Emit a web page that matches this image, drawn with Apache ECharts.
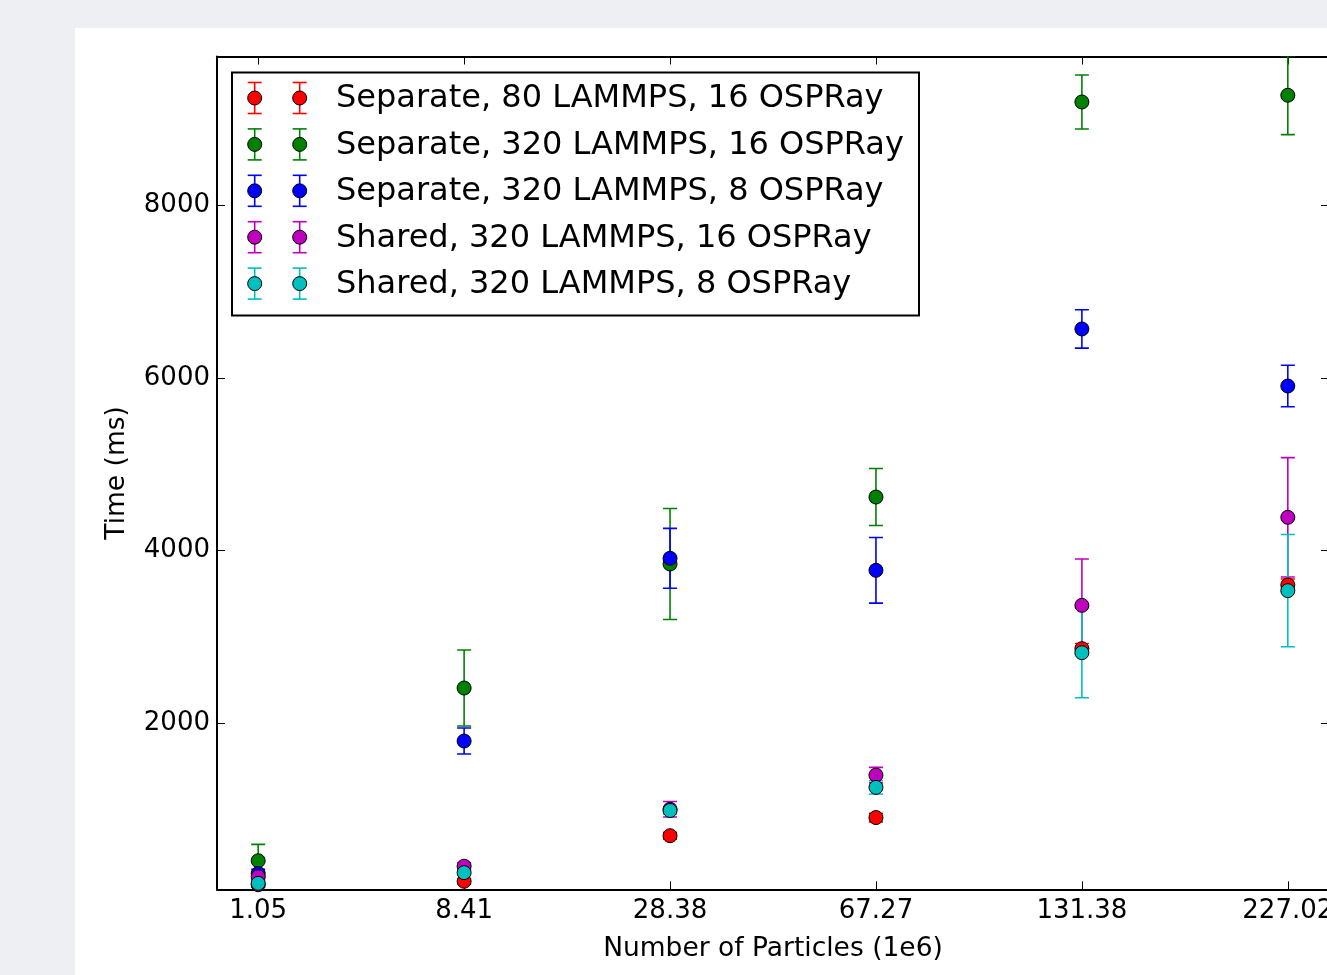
<!DOCTYPE html>
<html>
<head>
<meta charset="utf-8">
<title>Time vs particles</title>
<script src="https://cdn.jsdelivr.net/npm/echarts@6/dist/echarts.min.js"></script>
<style>
html,body{margin:0;padding:0;background:#eeeff2;overflow:hidden;}
#panel{position:absolute;left:75px;top:28px;right:0;bottom:0;background:#fff;}
#main{position:absolute;left:0;top:0;width:1327px;height:975px;}
</style>
</head>
<body>
<div id="panel"></div>
<div id="main"></div>
<script>
// x categories (millions of particles)
var categories = ['1.05', '8.41', '28.38', '67.27', '131.38', '227.02'];
var yTicks = [2000, 4000, 6000, 8000];

var seriesNames = [
	'Separate, 80 LAMMPS, 16 OSPRay',
	'Separate, 320 LAMMPS, 16 OSPRay',
	'Separate, 320 LAMMPS, 8 OSPRay',
	'Shared, 320 LAMMPS, 16 OSPRay',
	'Shared, 320 LAMMPS, 8 OSPRay'
];
var colors = ['#ff0000', '#008000', '#0000ff', '#bf00bf', '#00bfbf'];

// mean times (ms) and error (ms)
var sep80 = [130, 170, 698, 908, 2865, 3603];
var sep80Err = [30, 30, 40, 50, 60, 70];
var sep320o16 = [408, 2409, 3846, 4622, 9199, 9277];
var sep320o16Err = [190, 440, 643, 330, 313, 456];
var sep320o8 = [260, 1795, 3912, 3773, 6569, 5908];
var sep320o8Err = [50, 150, 347, 380, 222, 240];
var shared16 = [223, 345, 1005, 1400, 3367, 4387];
var shared16Err = [40, 40, 90, 90, 537, 691];
var shared8 = [146, 270, 990, 1258, 2818, 3537];
var shared8Err = [30, 30, 40, 77, 521, 650];

var allValues = [sep80, sep320o16, sep320o8, shared16, shared8];
var allErrors = [sep80Err, sep320o16Err, sep320o8Err, shared16Err, shared8Err];

var FONT = 'DejaVu Sans';

function errorBar(params, api) {
	var x = api.value(0);
	var y = api.value(1);
	var e = api.value(2);
	var top = api.coord([x, y + e]);
	var bot = api.coord([x, y - e]);
	var hw = 7;
	var st = {stroke: api.visual('color'), lineWidth: 1.6};
	return {
		type: 'group',
		children: [
			{type: 'line', shape: {x1: top[0], y1: top[1], x2: bot[0], y2: bot[1]}, style: st},
			{type: 'line', shape: {x1: top[0] - hw, y1: top[1], x2: top[0] + hw, y2: top[1]}, style: st},
			{type: 'line', shape: {x1: bot[0] - hw, y1: bot[1], x2: bot[0] + hw, y2: bot[1]}, style: st}
		]
	};
}

function buildSeries() {
	var list = [];
	for (var s = 0; s < allValues.length; s++) {
		var pts = [];
		var bars = [];
		for (var i = 0; i < categories.length; i++) {
			pts.push([i, allValues[s][i]]);
			bars.push([i, allValues[s][i], allErrors[s][i]]);
		}
		list.push({
			type: 'custom',
			name: seriesNames[s],
			renderItem: errorBar,
			clip: true,
			itemStyle: {color: colors[s]},
			data: bars
		});
		list.push({
			type: 'scatter',
			name: seriesNames[s],
			symbol: 'circle',
			symbolSize: 14,
			itemStyle: {color: colors[s], borderColor: '#000', borderWidth: 1, opacity: 1},
			data: pts
		});
	}
	return list;
}

// legend drawn by hand: two marker+errorbar samples per row, like matplotlib
function buildLegend() {
	var kids = [{
		type: 'rect',
		shape: {x: 0, y: 0, width: 687, height: 243},
		style: {fill: '#fff', stroke: '#000', lineWidth: 2}
	}];
	for (var i = 0; i < seriesNames.length; i++) {
		var cy = 25.5 + i * 46.4;
		var mx = [22.7, 67.7];
		for (var k = 0; k < mx.length; k++) {
			var st = {stroke: colors[i], lineWidth: 1.6};
			kids.push({type: 'line', shape: {x1: mx[k], y1: cy - 15.5, x2: mx[k], y2: cy + 15.5}, style: st});
			kids.push({type: 'line', shape: {x1: mx[k] - 7, y1: cy - 15.5, x2: mx[k] + 7, y2: cy - 15.5}, style: st});
			kids.push({type: 'line', shape: {x1: mx[k] - 7, y1: cy + 15.5, x2: mx[k] + 7, y2: cy + 15.5}, style: st});
			kids.push({type: 'circle', shape: {cx: mx[k], cy: cy, r: 7}, style: {fill: colors[i], stroke: '#000', lineWidth: 1}});
		}
		kids.push({
			type: 'text',
			x: 104, y: cy + 1,
			style: {text: seriesNames[i], fill: '#000', font: '32px "' + FONT + '"', verticalAlign: 'middle', align: 'left'}
		});
	}
	return [{type: 'group', x: 232, y: 72.5, z: 100, children: kids}];
}

var myChart = echarts.init(document.getElementById('main'));

var tickIdx = [];
for (var t = 0; t < categories.length; t++) tickIdx.push(t);

var option = {
	animation: false,
	textStyle: {fontFamily: FONT},
	grid: {left: 217, top: 56.5, width: 1112, height: 832.8, containLabel: false, outerBoundsMode: 'none'},
	xAxis: [{
		type: 'value',
		min: -0.2,
		max: 5.2,
		position: 'bottom',
		name: 'Number of Particles (1e6)',
		nameLocation: 'middle',
		nameGap: 46,
		nameTextStyle: {fontSize: 26.5, color: '#000', fontFamily: FONT},
		axisLine: {show: true, onZero: false, lineStyle: {color: '#000', width: 2}},
		axisTick: {show: true, inside: true, length: 8, customValues: tickIdx, lineStyle: {color: '#000', width: 1}},
		axisLabel: {
			show: true, customValues: tickIdx, margin: 9, fontSize: 26, color: '#000', fontFamily: FONT,
			formatter: function (v) { return categories[Math.round(v)]; }
		},
		splitLine: {show: false}
	}, {
		type: 'value',
		min: -0.2,
		max: 5.2,
		position: 'top',
		axisLine: {show: true, onZero: false, lineStyle: {color: '#000', width: 2}},
		axisTick: {show: true, inside: true, length: 8, customValues: tickIdx, lineStyle: {color: '#000', width: 1}},
		axisLabel: {show: false},
		splitLine: {show: false}
	}],
	yAxis: [{
		type: 'value',
		min: 77,
		max: 9726,
		position: 'left',
		name: 'Time (ms)',
		nameLocation: 'middle',
		nameGap: 86,
		nameTextStyle: {fontSize: 26.5, color: '#000', fontFamily: FONT},
		axisLine: {show: true, onZero: false, lineStyle: {color: '#000', width: 2}},
		axisTick: {show: true, inside: true, length: 8, customValues: yTicks, lineStyle: {color: '#000', width: 1}},
		axisLabel: {
			show: true, customValues: yTicks, margin: 7, fontSize: 26, color: '#000', fontFamily: FONT,
			formatter: function (v) { return String(v); }
		},
		splitLine: {show: false}
	}, {
		type: 'value',
		min: 77,
		max: 9726,
		position: 'right',
		axisLine: {show: true, onZero: false, lineStyle: {color: '#000', width: 2}},
		axisTick: {show: true, inside: true, length: 8, customValues: yTicks, lineStyle: {color: '#000', width: 1}},
		axisLabel: {show: false},
		splitLine: {show: false}
	}],
	graphic: buildLegend(),
	series: buildSeries()
};

myChart.setOption(option);
</script>
</body>
</html>
